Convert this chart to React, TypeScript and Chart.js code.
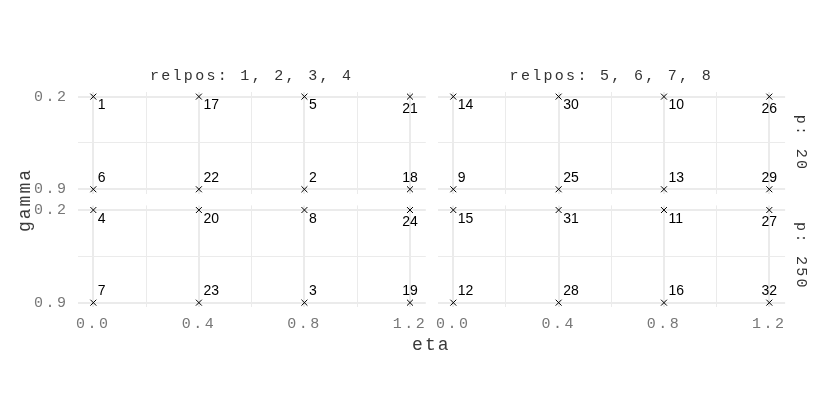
import React, { useEffect, useRef } from "react";
import { Chart, registerables } from "chart.js";

Chart.register(...registerables);

// ---- data ----
const etaValues = [0, 0.4, 0.8, 1.2];
const etaGridValues = [0, 0.2, 0.4, 0.6, 0.8, 1.0, 1.2];
const xTickLabels = ["0.0", "0.4", "0.8", "1.2"];
const gammaValues = [0.2, 0.9];
const gammaGridValues = [0.2, 0.55, 0.9];
const yTickLabels = ["0.2", "0.9"];
const relposStrips = ["relpos: 1, 2, 3, 4", "relpos: 5, 6, 7, 8"];
const pStrips = ["p: 20", "p: 250"];

const runsP20Relpos1to4Gamma02 = [1, 17, 5, 21];
const runsP20Relpos1to4Gamma09 = [6, 22, 2, 18];
const runsP20Relpos5to8Gamma02 = [14, 30, 10, 26];
const runsP20Relpos5to8Gamma09 = [9, 25, 13, 29];
const runsP250Relpos1to4Gamma02 = [4, 20, 8, 24];
const runsP250Relpos1to4Gamma09 = [7, 23, 3, 19];
const runsP250Relpos5to8Gamma02 = [15, 31, 11, 27];
const runsP250Relpos5to8Gamma09 = [12, 28, 16, 32];

const panelRuns = [
  [
    [runsP20Relpos1to4Gamma02, runsP20Relpos1to4Gamma09],
    [runsP20Relpos5to8Gamma02, runsP20Relpos5to8Gamma09],
  ],
  [
    [runsP250Relpos1to4Gamma02, runsP250Relpos1to4Gamma09],
    [runsP250Relpos5to8Gamma02, runsP250Relpos5to8Gamma09],
  ],
];

// ---- layout ----
const W = 830;
const H = 415;
const COLS = [
  { left: 77.5, right: 425.8 },
  { left: 437.5, right: 785.1 },
];
const ROWS = [
  { top: 92.0, bottom: 193.9 },
  { top: 205.4, bottom: 307.3 },
];
const Y_AXIS_W = 60;
const X_AXIS_H = 40;
const MONO = "'Liberation Mono', 'DejaVu Sans Mono', monospace";
const SANS = "'Liberation Sans', Arial, sans-serif";
const GRID = "#ebebeb";

const labelPlugin = {
  id: "runLabels",
  beforeDraw(chart: any) {
    chart.ctx.letterSpacing = "2.5px";
  },
  afterDatasetsDraw(chart: any) {
    const ctx = chart.ctx;
    const ds = chart.data.datasets[0];
    const meta = chart.getDatasetMeta(0);
    const xMax = etaValues[etaValues.length - 1];
    ctx.save();
    ctx.letterSpacing = "0px";
    ctx.font = `14px ${SANS}`;
    ctx.fillStyle = "#000";
    ctx.textBaseline = "middle";
    meta.data.forEach((el: any, i: number) => {
      const d = ds.data[i];
      const label = String(ds.runLabels[i]);
      const corner = d.x === xMax;
      const top = d.y === gammaValues[0];
      let x = el.x;
      let y = el.y;
      if (corner) {
        ctx.textAlign = "center";
        y += top ? 12.5 : -11.5;
      } else {
        ctx.textAlign = "left";
        x += 4.5;
        y += top ? 9 : -11.5;
      }
      ctx.fillText(label, x, y);
    });
    ctx.restore();
  },
};

function Panel({ row, col }: { row: number; col: number }) {
  const ref = useRef<HTMLCanvasElement>(null);
  useEffect(() => {
    const points: { x: number; y: number }[] = [];
    const labels: number[] = [];
    gammaValues.forEach((g, gi) => {
      etaValues.forEach((e, ei) => {
        points.push({ x: e, y: g });
        labels.push(panelRuns[row][col][gi][ei]);
      });
    });
    const c = COLS[col];
    const r = ROWS[row];
    const showX = row === ROWS.length - 1;
    const showY = col === 0;
    const chart = new Chart(ref.current as HTMLCanvasElement, {
      type: "scatter",
      data: {
        datasets: [
          {
            data: points,
            runLabels: labels,
            pointStyle: "crossRot",
            pointRadius: 4.2,
            pointBorderWidth: 1,
            borderColor: "#000",
            backgroundColor: "#000",
          } as any,
        ],
      },
      options: {
        animation: false,
        responsive: false,
        events: [],
        layout: {
          padding: {
            left: c.left - Y_AXIS_W,
            right: W - c.right,
            top: r.top,
            bottom: H - r.bottom - X_AXIS_H,
          },
        },
        plugins: {
          legend: { display: false },
          tooltip: { enabled: false },
          title: { display: false },
        },
        scales: {
          x: {
            type: "linear",
            min: -0.06,
            max: 1.26,
            afterBuildTicks: (s: any) => {
              s.ticks = etaGridValues.map((v) => ({ value: v }));
            },
            afterFit: (s: any) => {
              s.height = X_AXIS_H;
            },
            border: { display: false },
            grid: {
              color: GRID,
              drawTicks: false,
              lineWidth: (ctx: any) =>
                etaValues.some((v) => Math.abs(v - ctx.tick?.value) < 1e-9) ? 2 : 1,
            },
            ticks: {
              display: showX,
              autoSkip: false,
              maxRotation: 0,
              padding: 8,
              color: "#777",
              font: { family: MONO, size: 15 },
              callback: (v: any) => {
                const i = etaValues.findIndex((e) => Math.abs(e - v) < 1e-9);
                return i >= 0 ? xTickLabels[i] : "";
              },
            },
          },
          y: {
            type: "linear",
            reverse: true,
            min: 0.165,
            max: 0.935,
            afterBuildTicks: (s: any) => {
              s.ticks = gammaGridValues.map((v) => ({ value: v }));
            },
            afterFit: (s: any) => {
              s.width = Y_AXIS_W;
            },
            border: { display: false },
            grid: {
              color: GRID,
              drawTicks: false,
              lineWidth: (ctx: any) =>
                gammaValues.some((v) => Math.abs(v - ctx.tick?.value) < 1e-9) ? 2 : 1,
            },
            ticks: {
              display: showY,
              autoSkip: false,
              padding: 9,
              color: "#777",
              font: { family: MONO, size: 15 },
              callback: (v: any) => {
                const i = gammaValues.findIndex((g) => Math.abs(g - v) < 1e-9);
                return i >= 0 ? yTickLabels[i] : "";
              },
            },
          },
        },
      } as any,
      plugins: [labelPlugin],
    });
    return () => chart.destroy();
  }, [row, col]);
  return (
    <canvas
      ref={ref}
      width={W}
      height={H}
      style={{ position: "absolute", left: 0, top: 0, width: W, height: H }}
    />
  );
}

function Txt({
  text,
  x,
  y,
  size,
  rotate = 0,
  color = "#333",
  spacing = 2,
}: {
  text: string;
  x: number;
  y: number;
  size: number;
  rotate?: number;
  color?: string;
  spacing?: number;
}) {
  return (
    <div
      style={{
        position: "absolute",
        left: x,
        top: y,
        transform: `translate(-50%, -50%) rotate(${rotate}deg)`,
        whiteSpace: "nowrap",
        fontFamily: MONO,
        fontSize: size,
        letterSpacing: spacing,
        color,
        lineHeight: 1,
      }}
    >
      {text}
    </div>
  );
}

export default function App() {
  return (
    <div
      style={{
        position: "absolute",
        left: 0,
        top: 0,
        width: W,
        height: H,
        background: "#fff",
        overflow: "hidden",
      }}
    >
      {ROWS.map((_, r) => COLS.map((__, c) => <Panel key={`${r}-${c}`} row={r} col={c} />))}
      {COLS.map((c, i) => (
        <Txt key={`s${i}`} text={relposStrips[i]} x={(c.left + c.right) / 2} y={76} size={15} spacing={2.3} />
      ))}
      {ROWS.map((r, i) => (
        <Txt key={`p${i}`} text={pStrips[i]} x={800} y={(r.top + r.bottom) / 2} size={15} rotate={90} spacing={2.3} />
      ))}
      <Txt text="gamma" x={25} y={(ROWS[0].top + ROWS[1].bottom) / 2} size={18} rotate={-90} color="#3a3a3a" spacing={2} />
      <Txt text="eta" x={(COLS[0].left + COLS[1].right) / 2} y={345} size={18} color="#3a3a3a" spacing={2} />
    </div>
  );
}
